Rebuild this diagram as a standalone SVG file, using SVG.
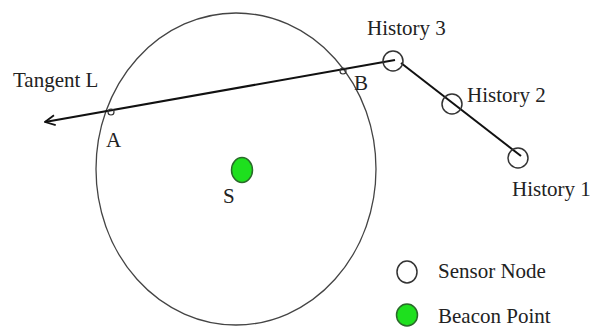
<svg xmlns="http://www.w3.org/2000/svg" width="602" height="327" viewBox="0 0 602 327">
<defs>
<style>
.t{font-family:"Liberation Serif","Times New Roman",serif;font-size:21px;fill:#222}
.sn{fill:#fff;stroke:#333;stroke-width:1.5}
.hn{fill:none;stroke:#333;stroke-width:1.5}
.bp{fill:#1ee01e;stroke:#2a6a2a;stroke-width:1.5}
.ln{stroke:#111;stroke-width:2;fill:none}
.pt{fill:none;stroke:#333;stroke-width:1.2}
</style>
<marker id="arr" viewBox="0 0 12 12" refX="1" refY="6" markerWidth="12" markerHeight="12" markerUnits="userSpaceOnUse" orient="auto">
<path d="M11,1 L1,6 L11,11" fill="none" stroke="#111" stroke-width="1.8"/>
</marker>
</defs>
<rect width="602" height="327" fill="#fff"/>
<g id="range">
<ellipse cx="236" cy="169" rx="140" ry="156" fill="none" stroke="#444" stroke-width="1.3"/>
</g>
<g id="connectors">
<line class="ln" x1="45" y1="122" x2="395" y2="60" marker-start="url(#arr)"/>
<line class="ln" x1="401" y1="63" x2="521" y2="156"/>
</g>
<g id="tangent"><text class="t" x="13" y="87">Tangent L</text></g>
<g id="pointA"><circle class="pt" cx="111" cy="112" r="3"/><text class="t" x="106" y="147">A</text></g>
<g id="pointB"><circle class="pt" cx="343" cy="71" r="3"/><text class="t" x="354" y="90">B</text></g>
<g id="beaconS"><ellipse class="bp" cx="242" cy="170" rx="10.5" ry="12.5"/><text class="t" x="223" y="203">S</text></g>
<g id="history3"><circle class="hn" cx="393" cy="61" r="10"/><text class="t" x="367" y="35">History 3</text></g>
<g id="history2"><circle class="hn" cx="452" cy="104" r="10"/><text class="t" x="467" y="102">History 2</text></g>
<g id="history1"><circle class="hn" cx="518" cy="158" r="10"/><text class="t" x="512" y="196">History 1</text></g>
<g id="legend">
<ellipse class="sn" cx="407" cy="272" rx="10" ry="11"/>
<text class="t" x="438" y="278">Sensor Node</text>
<ellipse class="bp" cx="407" cy="315" rx="10.5" ry="11"/>
<text class="t" x="438" y="323">Beacon Point</text>
</g>
</svg>
